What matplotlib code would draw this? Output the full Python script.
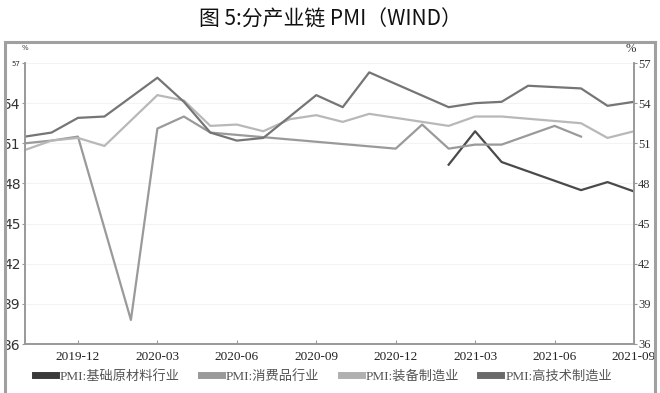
import matplotlib
matplotlib.use("Agg")
import matplotlib.pyplot as plt
from matplotlib.lines import Line2D
from matplotlib.patches import Rectangle

CJK = ["Noto Sans CJK SC", "DejaVu Sans"]
SERIF = ["Liberation Serif", "Noto Sans CJK SC"]

months = [
    "2019-10", "2019-11", "2019-12", "2020-01", "2020-02", "2020-03",
    "2020-04", "2020-05", "2020-06", "2020-07", "2020-08", "2020-09",
    "2020-10", "2020-11", "2020-12", "2021-01", "2021-02", "2021-03",
    "2021-04", "2021-05", "2021-06", "2021-07", "2021-08", "2021-09",
]
tick_labels = ["2019-12", "2020-03", "2020-06", "2020-09",
               "2020-12", "2021-03", "2021-06", "2021-09"]

N = None
# PMI:基础原材料行业
raw_material = [N, N, N, N, N, N, N, N, N, N, N, N,
                N, N, N, N, 49.4, 51.9, 49.6, N, N, 47.5, 48.1, 47.4]
# PMI:消费品行业
consumer = [51.0, 51.2, 51.5, N, 37.8, 52.1, 53.0, 51.8, N, N, N, N,
            N, N, 50.6, 52.4, 50.6, 50.9, 50.9, N, 52.3, 51.5, N, N]
# PMI:装备制造业
equipment = [50.5, 51.2, 51.4, 50.8, N, 54.6, 54.2, 52.3, 52.4, 51.9, 52.8, 53.1,
             52.6, 53.2, N, N, 52.3, 53.0, 53.0, N, N, 52.5, 51.4, 51.9]
# PMI:高技术制造业
hightech = [51.5, 51.8, 52.9, 53.0, N, 55.9, 54.1, 51.8, 51.2, 51.4, 53.0, 54.6,
            53.7, 56.3, N, N, 53.7, 54.0, 54.1, 55.3, N, 55.1, 53.8, 54.1]

series = [
    ("PMI:基础原材料行业", raw_material, "#4a4a4a", "#3a3a3a"),
    ("PMI:消费品行业", consumer, "#9a9a9a", "#9a9a9a"),
    ("PMI:装备制造业", equipment, "#b8b8b8", "#b0b0b0"),
    ("PMI:高技术制造业", hightech, "#757575", "#6a6a6a"),
]

fig = plt.figure(figsize=(6.6, 3.93), dpi=100)
ax = fig.add_axes([25 / 660, 1 - 344 / 393, 609 / 660, 281 / 393])

handles = []
for label, vals, color, swatch in series:
    xs = [i for i, v in enumerate(vals) if v is not None]
    ys = [v for v in vals if v is not None]
    ax.plot(xs, ys, color=color, lw=1.6)
    handles.append(Line2D([], [], color=swatch, lw=5, label=label))

ax.set_xlim(0, len(months) - 1)
ax.set_ylim(36, 57)
yt = [36, 39, 42, 45, 48, 51, 54, 57]
ax.set_yticks(yt)
ax.set_yticklabels([str(v) for v in yt], fontsize=10, color="#333333",
                   family=["Verdana", "DejaVu Sans"])
ax.get_yticklabels()[-1].set_fontsize(5)
ax.set_xticks([months.index(m) for m in tick_labels])
ax.set_xticklabels(tick_labels, family=SERIF, fontsize=9.5, color="#222222")
ax.tick_params(axis="x", length=3, direction="in", pad=5, color="#999999")
ax.tick_params(axis="y", length=2, pad=1, color="#999999")
ax.grid(axis="y", color="#f3f3f3", lw=0.8)

ax2 = ax.twinx()
ax2.set_ylim(36, 57)
ax2.set_yticks(yt)
ax2.set_yticklabels([str(v) for v in yt], family=SERIF, fontsize=9, color="#333333")
ax2.tick_params(axis="y", length=2, pad=1, color="#999999")

for a in (ax, ax2):
    a.spines["top"].set_visible(False)
    for s in ("left", "right", "bottom"):
        a.spines[s].set_color("#999999")
        a.spines[s].set_linewidth(1.2)

fig.text(25 / 660, 1 - 48 / 393, "%", fontsize=5, color="#444444", ha="center", va="center")
fig.text(631 / 660, 1 - 49 / 393, "%", family=SERIF, fontsize=9, color="#333333",
         ha="center", va="center")

fig.text(0.5, 1 - 20 / 393, "图 5:分产业链 PMI（WIND）", family=CJK, fontsize=15,
         ha="center", va="center", color="#111111")

fig.patches.append(Rectangle((5 / 660, -0.02), 650 / 660, 1 - 42 / 393 + 0.02,
                             transform=fig.transFigure, fill=False,
                             edgecolor="#a0a0a0", lw=2.2))

leg = fig.legend(handles=handles, loc="center", bbox_to_anchor=(0.49, 1 - 376 / 393),
                 ncol=4, frameon=False, handlelength=1.6, handletextpad=0.3,
                 columnspacing=1.6, prop={"family": SERIF, "size": 9.5})
for t in leg.get_texts():
    t.set_color("#555555")

fig.savefig("out.png", dpi=100)
